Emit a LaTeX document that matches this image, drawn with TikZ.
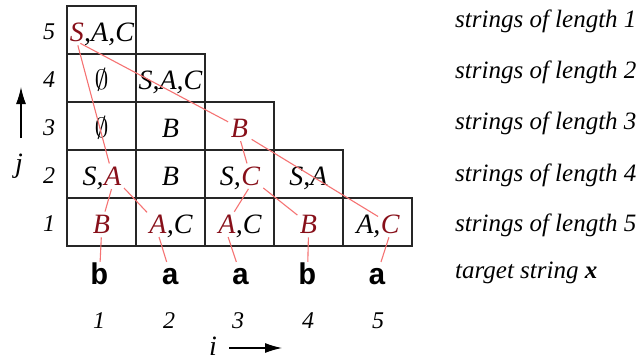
\documentclass[tikz,border=0pt]{standalone}
\usepackage{fontspec}
\setmainfont{Liberation Serif}
\setmonofont{Liberation Mono}
\usetikzlibrary{arrows.meta}
\definecolor{dred}{RGB}{135,15,25}
\definecolor{lred}{RGB}{245,115,115}
\newcommand{\bigempty}{\scalebox{2.8}{\normalsize$\emptyset$}}
\tikzset{
  cell/.style={draw=black!85, line width=1.3pt},
  ct/.style={inner sep=0pt, font=\fontsize{28}{30}\selectfont\itshape},
  rt/.style={ct, text=dred},
  term/.style={inner sep=0pt, anchor=base, text height=19pt, text depth=0pt, font=\fontsize{30}{32}\selectfont\ttfamily\bfseries},
  num/.style={inner sep=0pt, anchor=base, font=\fontsize{24}{26}\selectfont\itshape},
  lab/.style={inner sep=0pt, anchor=base west, font=\fontsize{25}{27}\selectfont\itshape},
  link/.style={draw=lred, line width=1.1pt, shorten <=4pt, shorten >=3pt},
  axis/.style={line width=1.2pt, -{Latex[length=17pt,width=10pt]}}
}
\begin{document}
\begin{tikzpicture}[x=1pt,y=-1pt]
\useasboundingbox (0,0) rectangle (641,362);
% grid
\foreach \j in {1,...,5}{
  \pgfmathtruncatemacro\n{6-\j}
  \foreach \i in {1,...,\n}{
    \draw[cell] ({67+69*(\i-1)},{6+48*(5-\j)}) rectangle ++(69,48);
  }
}
% row 5
\node[rt, anchor=base west] (S5) at (69.6,41) {S};
\node[ct, anchor=base west] (t51) at (S5.base east) {,A,C};
% row 4
\node[ct, anchor=base] (e41) at (101.5,89) {\bigempty};
\node[ct, anchor=base] (t42) at (170.5,89) {S,A,C};
% row 3
\node[ct, anchor=base] (e31) at (101.5,137) {\bigempty};
\node[ct, anchor=base] (t32) at (170.5,137) {B};
\node[rt, anchor=base] (B33) at (239.5,137) {B};
% row 2
\node[ct, anchor=base west] (t21) at (82.45,185) {S,};
\node[rt, anchor=base west] (A21) at (t21.base east) {A};
\node[ct, anchor=base] (t22) at (170.5,185) {B};
\node[ct, anchor=base west] (t23) at (219.65,185) {S,};
\node[rt, anchor=base west] (C23) at (t23.base east) {C};
\node[ct, anchor=base] (t24) at (308.5,185) {S,A};
% row 1
\node[rt, anchor=base] (B11) at (101.5,233) {B};
\node[rt, anchor=base west] (A12) at (149.1,233) {A};
\node[ct, anchor=base west] (t12) at (A12.base east) {,C};
\node[rt, anchor=base west] (A13) at (218.1,233) {A};
\node[ct, anchor=base west] (t13) at (A13.base east) {,C};
\node[rt, anchor=base] (B14) at (308.5,233) {B};
\node[ct, anchor=base west] (t15) at (356.1,233) {A,};
\node[rt, anchor=base west] (C15) at (t15.base east) {C};
% terminals
\node[term] (x1) at (99.5,284) {b};
\node[term] (x2) at (170.5,284) {a};
\node[term] (x3) at (240.5,284) {a};
\node[term] (x4) at (307.5,284) {b};
\node[term] (x5) at (377,284) {a};
% row numbers
\node[num] (n5) at (49,39) {5};
\node[num] (n4) at (49,87) {4};
\node[num] (n3) at (49,135) {3};
\node[num] (n2) at (49,183) {2};
\node[num] (n1) at (49,231) {1};
% column numbers
\node[num] (m1) at (99,328) {1};
\node[num] (m2) at (169,328) {2};
\node[num] (m3) at (238,328) {3};
\node[num] (m4) at (308,328) {4};
\node[num] (m5) at (378,328) {5};
% axes
\node[ct, anchor=base] (jl) at (19,172) {j};
\coordinate (ja0) at (21,138);
\coordinate (ja1) at (21,87);
\draw[axis] (ja0) -- (ja1);
\node[ct, anchor=base] (il) at (213,355) {i};
\coordinate (ia0) at (229,348);
\coordinate (ia1) at (282,348);
\draw[axis] (ia0) -- (ia1);
% right labels
\node[lab] (L1) at (455,27) {strings of length 1};
\node[lab] (L2) at (455,78) {strings of length 2};
\node[lab] (L3) at (455,129.5) {strings of length 3};
\node[lab] (L4) at (455,181) {strings of length 4};
\node[lab] (L5) at (455,231) {strings of length 5};
\node[lab] (L6) at (455,278) {target string \textbf{x}};
% derivation links
\draw[link] (S5.south) -- (A21);
\draw[link] (S5.south) -- (B33);
\draw[link] (A21.south) -- (B11);
\draw[link] (A21.south east) -- (A12);
\draw[link] (B33.south) -- (C23);
\draw[link] (B33.south east) -- (C15);
\draw[link] (C23.south) -- (A13);
\draw[link] (C23.south east) -- (B14);
\draw[link] (B11.south) -- (x1);
\draw[link] (A12.south) -- (x2);
\draw[link] (A13.south) -- (x3);
\draw[link] (B14.south) -- (x4);
\draw[link] (C15.south) -- (x5);
\end{tikzpicture}
\end{document}
